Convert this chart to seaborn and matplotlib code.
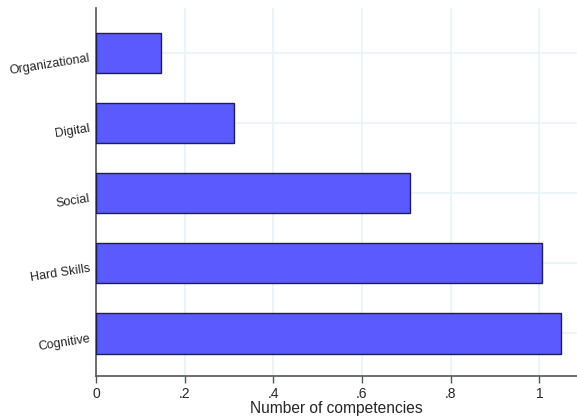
import matplotlib
matplotlib.use("Agg")
import matplotlib.pyplot as plt
import seaborn as sns
import pandas as pd

categories = ["Organizational", "Digital", "Social", "Hard Skills", "Cognitive"]
values = [0.147, 0.311, 0.709, 1.005, 1.048]
xticks = [0, 0.2, 0.4, 0.6, 0.8, 1.0]
xticklabels = ["0", ".2", ".4", ".6", ".8", "1"]

df = pd.DataFrame({"category": categories, "value": values})

sns.set_style("white")
plt.rcParams["font.family"] = ["Liberation Sans", "DejaVu Sans"]

fig = plt.figure(figsize=(5.77, 4.18), dpi=100)
ax = fig.add_axes([0.1664, 0.1005, 0.8336, 0.8804])

sns.barplot(data=df, x="value", y="category", order=categories, orient="h",
            color="#5a5aff", saturation=1, width=0.58,
            edgecolor="#1f1f4f", linewidth=1.0, ax=ax, zorder=3)

ax.set_xlim(0, 1.085)
ax.set_ylim(4.61, -0.64)
ax.set_xticks(xticks)
ax.set_xticklabels(xticklabels, fontsize=10)
ax.set_yticks(range(len(categories)))
ax.set_yticklabels(categories, fontsize=9, rotation=9,
                   rotation_mode="anchor", ha="right", va="top")

ax.grid(True, color="#eaf2f3", linewidth=1.2, zorder=0)
ax.set_axisbelow(True)

for side in ["top", "right"]:
    ax.spines[side].set_visible(False)
for side in ["left", "bottom"]:
    ax.spines[side].set_color("#555555")
    ax.spines[side].set_linewidth(1.2)

ax.tick_params(axis="x", length=5, width=1, color="#555555", pad=3, bottom=True)
ax.tick_params(axis="y", length=0, pad=5, left=False)

ax.set_xlabel("Number of competencies", fontsize=11.2, labelpad=0)
ax.set_ylabel("")

fig.savefig("out.png", dpi=100)
